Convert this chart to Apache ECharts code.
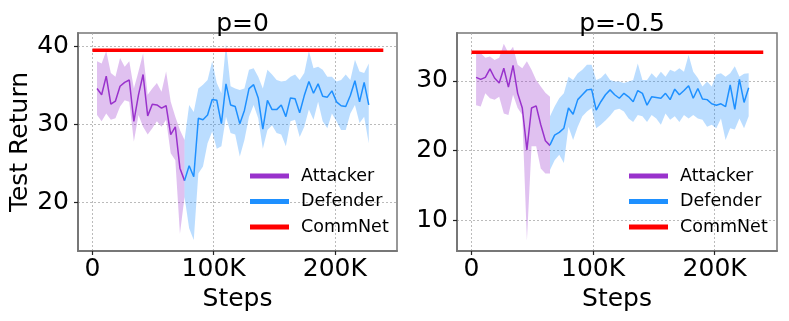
<!DOCTYPE html>
<html>
<head>
<meta charset="utf-8">
<script src="https://cdn.jsdelivr.net/npm/echarts@6/dist/echarts.min.js"></script>
<style>
  html, body { margin: 0; padding: 0; background: #fff; }
  #chart { width: 789px; height: 321px; }
</style>
</head>
<body>
<div id="chart"></div>
<script>
// x positions (steps), shared by both panels
const steps = [3800, 7600, 11400, 15200, 19000, 22800, 26600, 30400, 34200, 38000,
  41800, 45600, 49400, 53200, 57000, 60800, 64600, 68400, 72200, 76000,
  79800, 83600, 87400, 91200, 95000, 98800, 102600, 106400, 110200, 114000,
  117800, 121600, 125400, 129200, 133000, 136800, 140600, 144400, 148200, 152000,
  155800, 159600, 163400, 167200, 171000, 174800, 178600, 182400, 186200, 190000,
  193800, 197600, 201400, 205200, 209000, 212800, 216600, 220400, 224200, 228000]

const titles = ['p=0', 'p=-0.5']
const legendNames = ['Attacker', 'Defender', 'CommNet']
const xTicks = [0, 100000, 200000]
const yTicksLeft = [20, 30, 40]
const yTicksRight = [10, 20, 30]
const commnetSpan = [0, 240000]
const commnetLeft = 39.5
const commnetRight = 34.1

// p=0 panel
const attMeanL = [34.6, 33.8, 36.2, 32.6, 33.0, 34.9, 35.4, 35.7, 30.4, 33.8, 36.4, 31.1, 32.6, 32.5, 32.1, 32.4, 28.7, 29.7, 24.4, 22.8]
const attLowL = [31.2, 30.4, 31.4, 30.6, 30.8, 32.3, 33.1, 32.9, 27.8, 31.2, 29.7, 28.7, 29.5, 30.4, 29.7, 30.6, 26.3, 25.4, 16.0, 20.7]
const attHighL = [38.1, 37.8, 39.4, 36.6, 36.1, 38.5, 37.4, 38.1, 34.6, 36.8, 39.1, 33.8, 34.6, 35.3, 34.2, 36.8, 32.9, 31.0, 29.3, 28.0]
const defMeanL = [22.8, 24.7, 23.3, 30.8, 30.6, 31.2, 33.2, 33.1, 30.1, 35.2, 32.5, 32.3, 30.1, 31.8, 34.6, 35.1, 33.4, 29.4, 33.1, 31.9,
  31.9, 32.5, 31.0, 33.4, 33.3, 31.5, 33.7, 35.5, 34.0, 35.2, 33.6, 33.5, 34.3, 32.9, 32.4, 32.3, 33.7, 35.6, 32.9, 35.4, 32.5]
const defLowL = [20.7, 16.7, 15.2, 23.7, 24.6, 27.6, 29.1, 26.9, 27.2, 31.0, 28.9, 28.7, 25.9, 28.0, 31.0, 32.5, 30.8, 26.9, 29.3, 29.9,
  28.9, 28.7, 27.2, 30.4, 30.6, 28.4, 29.7, 31.9, 30.6, 32.9, 30.4, 29.5, 31.4, 30.4, 29.3, 29.3, 31.4, 32.5, 30.2, 31.0, 27.6]
const defHighL = [28.0, 32.5, 31.6, 34.6, 35.1, 35.7, 38.1, 35.3, 34.0, 40.3, 34.9, 34.6, 34.4, 34.6, 37.0, 37.2, 36.1, 34.6, 37.0, 36.4,
  35.7, 35.5, 35.6, 36.1, 36.4, 35.7, 36.6, 39.4, 37.2, 37.4, 37.0, 36.1, 36.1, 35.5, 35.7, 36.4, 35.7, 38.3, 36.8, 36.6, 37.8]

// p=-0.5 panel
const attMeanR = [30.5, 30.2, 30.5, 31.7, 30.4, 29.7, 31.8, 29.1, 32.2, 28.2, 26.1, 20.1, 26.1, 26.4, 23.7, 21.4, 20.7]
const attLowR = [26.5, 26.3, 28.2, 27.5, 27.3, 27.7, 25.3, 25.1, 28.0, 26.1, 25.1, 7.1, 20.6, 20.6, 17.4, 16.7, 16.7]
const attHighR = [34.2, 34.0, 33.3, 33.5, 33.0, 33.3, 35.3, 34.0, 34.9, 32.3, 31.8, 32.8, 31.6, 30.1, 29.2, 28.3, 27.7]
const defMeanR = [20.8, 22.2, 22.6, 23.2, 26.1, 25.2, 27.3, 28.0, 28.7, 28.8, 25.8, 27.0, 28.0, 28.7, 28.0, 27.5, 28.2, 27.7, 27.0, 28.6,
  28.2, 26.5, 27.7, 27.6, 27.5, 28.2, 27.3, 28.8, 28.0, 28.6, 29.3, 27.5, 28.9, 27.4, 27.3, 26.7, 26.5, 26.7, 26.3, 29.4,
  25.9, 30.2, 26.9, 29.0]
const defLowR = [17.2, 18.6, 19.4, 18.2, 23.4, 21.5, 23.4, 24.9, 25.6, 26.1, 23.2, 23.7, 24.3, 25.0, 25.8, 26.0, 25.6, 24.6, 24.1, 25.1,
  24.9, 24.1, 25.1, 24.6, 23.7, 25.3, 24.4, 24.9, 24.1, 25.1, 24.6, 25.1, 24.6, 24.4, 23.4, 23.7, 23.2, 24.6, 21.5, 23.2,
  23.0, 24.6, 23.2, 24.9]
const defHighR = [24.9, 26.3, 27.5, 28.2, 30.6, 30.1, 31.1, 31.6, 32.3, 32.3, 30.1, 30.4, 31.1, 30.1, 29.9, 29.9, 29.7, 29.9, 30.1, 32.5,
  30.1, 30.1, 31.1, 30.4, 31.3, 30.6, 31.6, 31.3, 31.8, 31.3, 33.7, 31.3, 30.4, 29.2, 29.9, 29.2, 30.9, 31.1, 30.6, 31.1,
  32.1, 30.6, 31.0, 31.1]

const FONT = 'DejaVu Sans'
const ATT = '#9932CC'
const DEF = '#1E90FF'
const ATT_FILL = 'rgba(153,50,204,0.3)'
const DEF_FILL = 'rgba(30,144,255,0.3)'

function pairs(xs, ys) {
  return ys.map((y, i) => [xs[i], y])
}

// shaded min/max band drawn as one polygon through the axis scales
function band(gi, xs, lo, hi, fill) {
  const rows = lo.map((l, i) => [xs[i], l, hi[i]])
  return {
    type: 'custom', xAxisIndex: gi, yAxisIndex: gi, silent: true, z: 1,
    data: rows,
    encode: { x: 0, y: [1, 2] },
    renderItem: function (params, api) {
      if (params.dataIndex !== 0) return
      const top = rows.map(r => api.coord([r[0], r[2]]))
      const bot = rows.map(r => api.coord([r[0], r[1]])).reverse()
      return {
        type: 'polygon',
        shape: { points: top.concat(bot) },
        style: { fill: fill }
      }
    }
  }
}

function meanLine(name, gi, xs, ys, color) {
  return {
    name: name, type: 'line', xAxisIndex: gi, yAxisIndex: gi,
    data: pairs(xs, ys), symbol: 'none', color: color, z: 3,
    lineStyle: { width: 1.5, color: color }
  }
}

function commLine(gi, y) {
  return {
    name: 'CommNet', type: 'line', xAxisIndex: gi, yAxisIndex: gi,
    data: commnetSpan.map(x => [x, y]), symbol: 'none', color: '#ff0000', z: 4,
    lineStyle: { width: 3.5, color: '#ff0000' }
  }
}

function xAxisFor(gi) {
  return {
    type: 'value', gridIndex: gi, min: -11900, max: 251300,
    name: 'Steps', nameLocation: 'middle', nameGap: 34,
    nameTextStyle: { fontSize: 25, color: '#000', fontFamily: FONT },
    axisLine: { show: true, onZero: false, lineStyle: { color: '#777', width: 2 } },
    axisTick: { show: true, length: 4, customValues: xTicks, lineStyle: { color: '#222', width: 1.2 } },
    axisLabel: {
      customValues: xTicks, margin: 6, fontSize: 25, color: '#000', fontFamily: FONT,
      formatter: v => v === 0 ? '0' : (v / 1000) + 'K'
    },
    splitLine: { show: true, lineStyle: { color: '#aaa', type: [2, 2], width: 0.8 } }
  }
}

function yAxisFor(gi, min, max, ticks, name) {
  return {
    type: 'value', gridIndex: gi, min: min, max: max,
    name: name, nameLocation: 'middle', nameGap: 44,
    nameTextStyle: { fontSize: 25, color: '#000', fontFamily: FONT },
    axisLine: { show: true, onZero: false, lineStyle: { color: '#777', width: 2 } },
    axisTick: { show: true, length: 4, customValues: ticks, lineStyle: { color: '#222', width: 1.2 } },
    axisLabel: { customValues: ticks, margin: 9, fontSize: 25, color: '#000', fontFamily: FONT },
    splitLine: { show: true, lineStyle: { color: '#aaa', type: [2, 2], width: 0.8 } }
  }
}

function legendFor(left) {
  return {
    data: legendNames, orient: 'vertical', left: left, top: 162,
    icon: 'rect', itemWidth: 39, itemHeight: 5, itemGap: 7.5,
    selectedMode: false,
    textStyle: { fontSize: 17.5, color: '#000', fontFamily: FONT, padding: [0, 0, 0, 7] }
  }
}

const chart = echarts.init(document.getElementById('chart'), null, { renderer: 'canvas' })

chart.setOption({
  animation: false,
  backgroundColor: '#fff',
  title: [
    { text: titles[0], left: 237.5, top: 7, textAlign: 'center',
      textStyle: { fontSize: 25, fontWeight: 'normal', color: '#000', fontFamily: FONT } },
    { text: titles[1], left: 617, top: 7, textAlign: 'center',
      textStyle: { fontSize: 25, fontWeight: 'normal', color: '#000', fontFamily: FONT } }
  ],
  legend: [legendFor(245), legendFor(624)],
  grid: [
    { left: 78, top: 33, width: 319, height: 218, show: true, borderColor: '#777', borderWidth: 1.5 },
    { left: 457, top: 33, width: 320, height: 218, show: true, borderColor: '#777', borderWidth: 1.5 }
  ],
  xAxis: [xAxisFor(0), xAxisFor(1)],
  yAxis: [
    yAxisFor(0, 13.78, 41.72, yTicksLeft, 'Test Return'),
    yAxisFor(1, 5.58, 36.86, yTicksRight, '')
  ],
  series: [
    band(0, steps.slice(0, 20), attLowL, attHighL, ATT_FILL),
    band(0, steps.slice(19), defLowL, defHighL, DEF_FILL),
    meanLine('Attacker', 0, steps.slice(0, 20), attMeanL, ATT),
    meanLine('Defender', 0, steps.slice(19), defMeanL, DEF),
    commLine(0, commnetLeft),
    band(1, steps.slice(0, 17), attLowR, attHighR, ATT_FILL),
    band(1, steps.slice(16), defLowR, defHighR, DEF_FILL),
    meanLine('Attacker', 1, steps.slice(0, 17), attMeanR, ATT),
    meanLine('Defender', 1, steps.slice(16), defMeanR, DEF),
    commLine(1, commnetRight)
  ]
})
</script>
</body>
</html>
